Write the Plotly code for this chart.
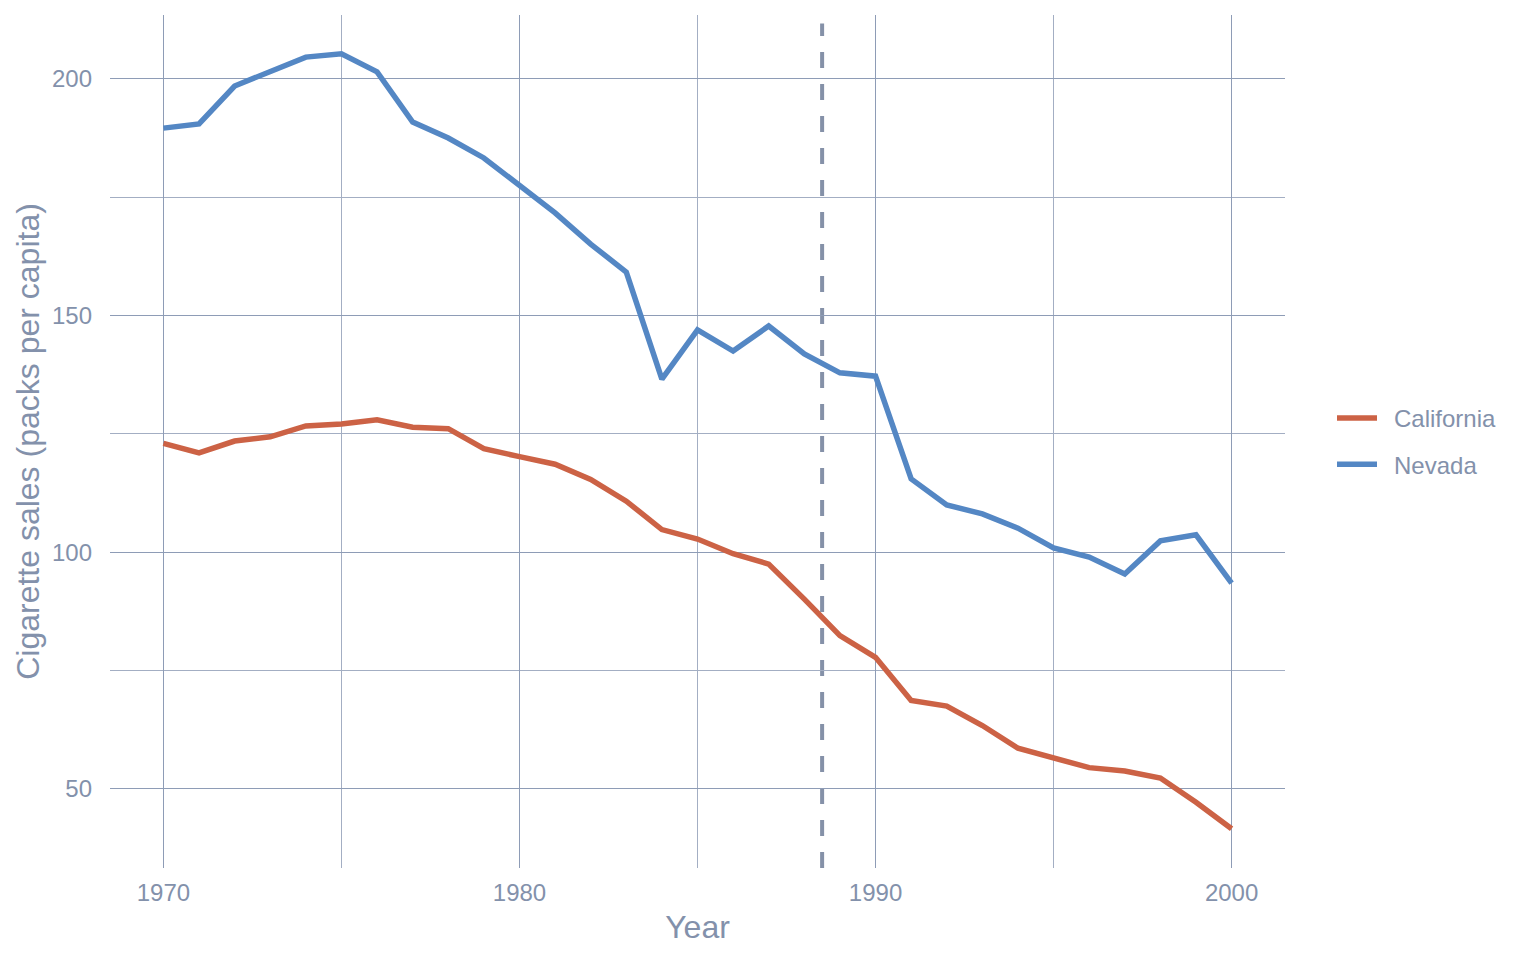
import plotly.graph_objects as go

years = list(range(1970, 2001))

california = [123.0, 121.0, 123.5, 124.4, 126.7, 127.1, 128.0, 126.4, 126.1, 121.9,
              120.2, 118.6, 115.4, 110.8, 104.8, 102.8, 99.7, 97.5, 90.1, 82.4,
              77.8, 68.7, 67.5, 63.4, 58.6, 56.4, 54.5, 53.8, 52.3, 47.2, 41.6]

nevada = [189.6, 190.5, 198.5, 201.7, 204.6, 205.3, 201.5, 190.9, 187.5, 183.3,
          177.6, 171.7, 165.1, 159.2, 136.6, 147.0, 142.5, 147.8, 141.9, 137.9,
          137.2, 115.5, 110.0, 108.1, 105.1, 100.9, 99.0, 95.4, 102.4, 103.7, 93.5]

treatment_year = 1988.5

txt = "#8391ab"
grid = "#8e9cb6"
font = "Liberation Sans, Arial, Helvetica, sans-serif"

fig = go.Figure()
fig.add_trace(go.Scatter(x=years, y=california, mode="lines", name="\u2002California",
                         legendgroup="ca", line=dict(color="#cc6245", width=5.5)))
fig.add_trace(go.Scatter(x=years, y=nevada, mode="lines", name="\u2002Nevada",
                         legendgroup="nv", line=dict(color="#5487c4", width=5.5)))

# dashed line at the treatment year
fig.add_shape(type="line", x0=treatment_year, x1=treatment_year, xref="x",
              y0=0, y1=0.99, yref="paper", layer="below",
              line=dict(color="#8591a8", width=4, dash="16px,16px"))

fig.update_layout(
    width=1520, height=944,
    paper_bgcolor="white", plot_bgcolor="white",
    font=dict(family=font, color=txt, size=24),
    margin=dict(l=102, r=243, t=7, b=84, autoexpand=False),
    legend=dict(x=1.04, y=0.5, yanchor="middle", xanchor="left",
                font=dict(size=24, color=txt), tracegroupgap=12,
                itemwidth=40),
    xaxis=dict(range=[1968.5, 2001.5], tickvals=[1970, 1980, 1990, 2000],
               showgrid=True, gridcolor=grid, gridwidth=1.3, zeroline=False,
               showline=False, ticks="", tickfont=dict(size=24, color=txt),
               ticklabelstandoff=8, automargin=False,
               minor=dict(tickvals=[1975, 1985, 1995], showgrid=True,
                          gridcolor="#a3aec3", gridwidth=1),
               title=dict(text="Year", font=dict(size=32, color=txt), standoff=10)),
    yaxis=dict(range=[33.3, 213.5], tickvals=[50, 100, 150, 200],
               showgrid=True, gridcolor=grid, gridwidth=1.3, zeroline=False,
               showline=False, ticks="", tickfont=dict(size=24, color=txt),
               ticklabelstandoff=17, automargin=False,
               minor=dict(tickvals=[75, 125, 175], showgrid=True,
                          gridcolor="#a3aec3", gridwidth=1),
               title=dict(text="Cigarette sales (packs per capita)",
                          font=dict(size=32, color=txt), standoff=2)),
)

fig.write_html("out.html")
